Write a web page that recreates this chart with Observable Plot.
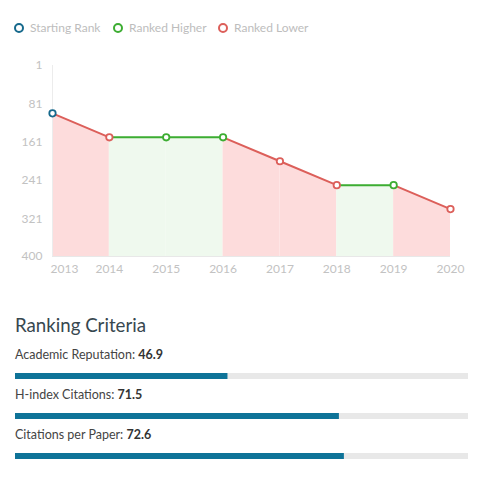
<!DOCTYPE html>
<html>
<head>
<meta charset="utf-8">
<script src="https://cdn.jsdelivr.net/npm/d3@7"></script>
<script src="https://cdn.jsdelivr.net/npm/@observablehq/plot@0.6"></script>
<style>
  body { margin:0; background:#fff; font-family: Lato, "Open Sans", sans-serif; width:485px; height:498px; position:relative; overflow:hidden; }
  .abs { position:absolute; }
  .leg { position:absolute; top:20px; font-size:12px; color:#bdbdbd; white-space:nowrap; }
  .leg .c { display:inline-block; width:6px; height:6px; border-radius:50%; border:2px solid; vertical-align:-1px; margin-right:6px; }
  .title { position:absolute; left:15px; top:314px; font-size:18.7px; color:#37474f; }
  .lab { position:absolute; left:15px; font-size:12.5px; color:#444; white-space:nowrap; }
  .lab b { font-weight:700; color:#333; }
</style>
</head>
<body>
<script>
// ---- data ----
const years = [2013, 2014, 2015, 2016, 2017, 2018, 2019, 2020];
const ranks = [101, 151, 151, 151, 201, 251, 251, 301];
const status = ["start", "lower", "higher", "higher", "lower", "lower", "higher", "lower"];
const yTicks = [1, 81, 161, 241, 321, 400];
const legendLabels = ["Starting Rank", "Ranked Higher", "Ranked Lower"];
const criteria = ["Academic Reputation", "H-index Citations", "Citations per Paper"];
const scores = [46.9, 71.5, 72.6];

// ---- styles ----
const lineColor = {start: "#16698c", higher: "#3dad32", lower: "#dc5f5a"};
const fillColor = {higher: "#eff9ee", lower: "#fddcdc"};
const barBlue = "#0e7398";
const trackGray = "#e8e8e8";

// legend
const legendKeys = ["start", "higher", "lower"];
const legendX = [14, 113, 218];
legendLabels.forEach((t, i) => {
  const d = document.createElement("div");
  d.className = "leg";
  d.style.left = legendX[i] + "px";
  d.innerHTML = `<span class="c" style="border-color:${lineColor[legendKeys[i]]}"></span>${t}`;
  document.body.appendChild(d);
});

// points & segments
const pts = years.map((y, i) => ({x: y, rank: ranks[i], status: status[i]}));
const segs = [];
for (let i = 1; i < pts.length; i++) {
  segs.push({seg: i, x: pts[i - 1].x, rank: pts[i - 1].rank, status: pts[i].status});
  segs.push({seg: i, x: pts[i].x, rank: pts[i].rank, status: pts[i].status});
}

const chart = Plot.plot({
  width: 485,
  height: 235,
  marginTop: 20,
  marginBottom: 24,
  marginLeft: 52,
  marginRight: 35,
  style: {color: "#c2c2c2", fontSize: "12px", fontFamily: "Lato, 'Open Sans', sans-serif", background: "transparent"},
  x: {domain: [2013, 2020], axis: null},
  y: {domain: [400, 1], axis: null},
  color: {type: "identity"},
  marks: [
    Plot.areaY(segs, {x: "x", y1: 400, y2: "rank", z: "seg", fill: d => fillColor[d.status]}),
    Plot.ruleX([2013], {y1: 1, y2: 400, stroke: "#ececec"}),
    Plot.ruleY([400], {stroke: "#e8e8e8"}),
    Plot.axisY(yTicks, {tickSize: 0, tickPadding: 10, label: null, fill: "#c2c2c2"}),
    Plot.text([years[0]], {x: d => d, text: d => String(d), frameAnchor: "bottom", dy: 16, textAnchor: "start", dx: -2, fill: "#c2c2c2"}),
    Plot.text(years.slice(1), {x: d => d, text: d => String(d), frameAnchor: "bottom", dy: 16, fill: "#c2c2c2"}),
    Plot.line(segs, {x: "x", y: "rank", z: "seg", stroke: d => lineColor[d.status], strokeWidth: 2}),
    Plot.dot(pts, {x: "x", y: "rank", r: 3.2, fill: "white", stroke: d => lineColor[d.status], strokeWidth: 1.8})
  ]
});
chart.classList.add("abs");
chart.style.left = "0px";
chart.style.top = "45px";
document.body.appendChild(chart);

// ranking criteria
const title = document.createElement("div");
title.className = "title";
title.textContent = "Ranking Criteria";
document.body.appendChild(title);

criteria.forEach((c, i) => {
  const lab = document.createElement("div");
  lab.className = "lab";
  lab.style.top = (347 + 40 * i) + "px";
  lab.innerHTML = `${c}: <b>${scores[i]}</b>`;
  document.body.appendChild(lab);

  const bar = Plot.plot({
    width: 485,
    height: 6,
    margin: 0,
    marginLeft: 15,
    marginRight: 17,
    x: {domain: [0, 100], axis: null},
    style: {background: "transparent"},
    marks: [
      Plot.barX([100], {x: d => d, fill: trackGray}),
      Plot.barX([scores[i]], {x: d => d, fill: barBlue})
    ]
  });
  bar.classList.add("abs");
  bar.style.left = "0px";
  bar.style.top = (373 + 40 * i) + "px";
  document.body.appendChild(bar);
});
</script>
</body>
</html>
